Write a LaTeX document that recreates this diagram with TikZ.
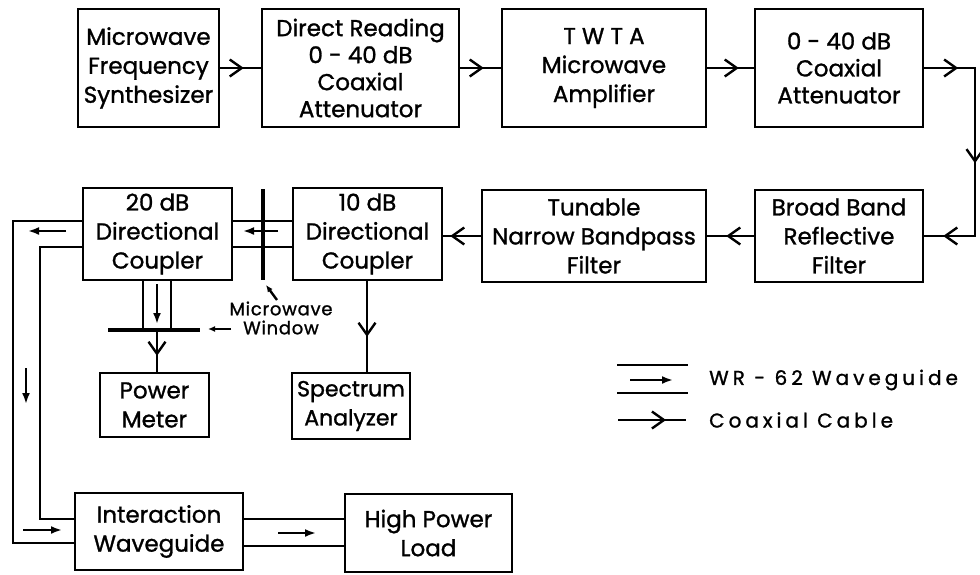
\documentclass[tikz,border=0pt]{standalone}
\usepackage{fontspec}
\setmainfont{Poppins}[FakeBold=1.2]
\newfontfamily\legendfont[LetterSpace=20,FakeBold=1.2]{Poppins}
\newfontfamily\labelfont[LetterSpace=4,FakeBold=1.2]{Poppins}
\usetikzlibrary{arrows.meta,decorations.markings,calc}
\tikzset{
  >={Straight Barb[length=12pt,width=17pt,line width=2.4pt]},
  box/.style={draw, line width=2.4pt, align=center, inner sep=0pt,
    font=\fontsize{23}{29}\selectfont},
  coax/.style={line width=2.4pt, postaction={decorate},
    decoration={markings, mark=at position #1 with {\arrow{>}}}},
  wg/.style={line width=2.4pt},
  wgarrow/.style={line width=2.4pt, -{Latex[length=11pt,width=8pt]}},
  windowbar/.style={line width=4pt},
  lbl/.style={align=center, inner sep=0pt, font=\labelfont\fontsize{18}{19}\selectfont},
  legendtext/.style={anchor=west, inner sep=0pt, font=\legendfont\fontsize{20}{22}\selectfont},
}
\begin{document}
\begin{tikzpicture}[x=1pt,y=-1pt]
\useasboundingbox (0,0) rectangle (980,574);
% top row
\node[box, minimum width=141pt, minimum height=118pt] (syn) at (148.5,68) {Microwave\\Frequency\\Synthesizer};
\node[box, minimum width=197pt, minimum height=118pt, font=\fontsize{23}{27}\selectfont] (dra) at (360.5,68) {Direct Reading\\0 - 40 dB\\Coaxial\\Attenuator};
\node[box, minimum width=204pt, minimum height=118pt] (twta) at (604,68) {T W T A\\Microwave\\Amplifier};
\node[box, minimum width=168pt, minimum height=118pt, font=\fontsize{23}{27}\selectfont] (att) at (839,68) {0 - 40 dB\\Coaxial\\Attenuator};
% second row
\node[box, minimum width=168pt, minimum height=92pt] (bbf) at (839,236) {Broad Band\\Reflective\\Filter};
\node[box, minimum width=224pt, minimum height=92pt] (tnb) at (594,236) {Tunable\\Narrow Bandpass\\Filter};
\node[box, minimum width=149pt, minimum height=92pt] (c10) at (367.5,234) {10 dB\\Directional\\Coupler};
\node[box, minimum width=149pt, minimum height=92pt] (c20) at (157.5,234) {20 dB\\Directional\\Coupler};
% third row
\node[box, minimum width=109pt, minimum height=64pt] (pm) at (154.5,405) {Power\\Meter};
\node[box, minimum width=118pt, minimum height=66pt, font=\fontsize{22}{29}\selectfont] (sa) at (351,406) {Spectrum\\Analyzer};
% bottom row
\node[box, minimum width=168pt, minimum height=77pt] (iw) at (159,531.5) {Interaction\\Waveguide};
\node[box, minimum width=167pt, minimum height=78pt] (hpl) at (428.5,533) {High Power\\Load};

% coaxial connections
\draw[coax=-17pt] (syn.east) -- (dra.west);
\draw[coax=-17pt] (dra.east) -- (twta.west);
\draw[coax=-15pt] (twta.east) -- (att.west);
\coordinate (r1) at (975,68);
\coordinate (r2) at (975,236);
\draw[line width=2.4pt, postaction={decorate},
  decoration={markings,
    mark=at position 34pt with {\arrow{>}},
    mark=at position 146pt with {\arrow{>}},
    mark=at position -19pt with {\arrow{>}}}]
  (att.east) -- (r1) -- (r2) -- (bbf.east);
\draw[coax=-19pt] (bbf.west) -- (tnb.east);
\draw[coax=-7pt] (tnb.west) -- (tnb.west -| c10.east);
\coordinate (sx) at (367,300);
\draw[coax=-35pt] (sx |- c10.south) -- (sx |- sa.north);

% waveguide 20 dB -- 10 dB
\coordinate (g1) at (250,221);
\coordinate (g2) at (250,247);
\draw[wg] (g1 -| c20.east) -- (g1 -| c10.west);
\draw[wg] (g2 -| c20.east) -- (g2 -| c10.west);
\draw[wgarrow] (278,231) -- (243,231);
\draw[windowbar] (263,189) -- (263,280);

% waveguide from 20 dB coupler to interaction waveguide
\coordinate (lo1) at (13,221);
\coordinate (lo2) at (13,543);
\coordinate (li1) at (40,247);
\coordinate (li2) at (40,519);
\draw[wg] (lo1 -| c20.west) -- (lo1) -- (lo2) -- (lo2 -| iw.west);
\draw[wg] (li1 -| c20.west) -- (li1) -- (li2) -- (li2 -| iw.west);
\draw[wgarrow] (66,231) -- (28,231);
\draw[wgarrow] (26,368) -- (26,404);
\draw[wgarrow] (23,530) -- (62,530);

% waveguide interaction -- load
\coordinate (m1) at (300,519);
\coordinate (m2) at (300,546);
\draw[wg] (m1 -| iw.east) -- (m1 -| hpl.west);
\draw[wg] (m2 -| iw.east) -- (m2 -| hpl.west);
\draw[wgarrow] (278,533) -- (316,533);

% coupled arm to power meter
\coordinate (b1) at (143,330);
\coordinate (b2) at (171,330);
\coordinate (win) at (157,330);
\draw[wg] (b1 |- c20.south) -- (b1);
\draw[wg] (b2 |- c20.south) -- (b2);
\draw[wgarrow] (157,284) -- (157,324);
\draw[windowbar] (108,330) -- (200,330);
\draw[coax=-16pt] (win) -- (win |- pm.north);

% microwave window label
\node[lbl] (mwl) at (281,318) {Microwave\\Window};
\draw[line width=2.4pt, -{Latex[length=7pt,width=6pt]}] (277,300) -- (266,285);
\draw[line width=2.4pt, -{Latex[length=7pt,width=6pt]}] (231,329) -- (208,329);

% legend
\draw[wg] (617,365) -- (688,365);
\draw[wg] (617,393) -- (688,393);
\draw[wgarrow] (630,380) -- (673,380);
\node[legendtext] (lwg) at (709,380) {WR - 62 Waveguide};
\coordinate (lc1) at (618,420);
\coordinate (lc2) at (686,420);
\draw[coax=-20pt] (lc1) -- (lc2);
\node[legendtext] (lcc) at (709,420) {Coaxial Cable};
\end{tikzpicture}
\end{document}
